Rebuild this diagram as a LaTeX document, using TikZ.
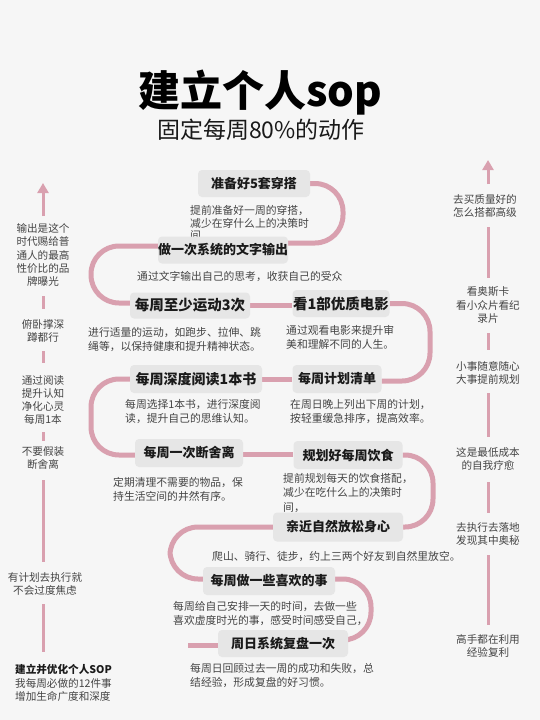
\documentclass[tikz,border=0pt]{standalone}
\usepackage{fontspec}
\setmainfont{Noto Sans CJK SC}
\usetikzlibrary{arrows.meta}
\definecolor{bgc}{HTML}{F6F6F6}
\definecolor{boxg}{HTML}{E6E6E6}
\definecolor{pinkc}{HTML}{D9A0AF}
\definecolor{txt}{HTML}{1A1A1A}
\definecolor{desc}{HTML}{444444}
\pgfdeclarelayer{bgl}
\pgfsetlayers{bgl,main}
\begin{document}
\begin{tikzpicture}[x=1pt,y=-1pt,
 stepbox/.style={fill=boxg, rounded corners=4pt, inner sep=0pt, text=txt, font=\bfseries\fontsize{13}{15}\selectfont},
 desctext/.style={anchor=north west, align=left, inner sep=0pt, text=desc, font=\fontsize{10.8}{14.5}\selectfont},
 sidetext/.style={align=center, inner sep=0pt, text=desc, font=\fontsize{10.6}{13.2}\selectfont},
 pinkpath/.style={draw=pinkc, line width=5pt, rounded corners=28pt},
 sideline/.style={draw=pinkc, line width=3pt},
 sidearrow/.style={draw=pinkc, line width=3pt, -{Triangle[width=11pt,length=10pt]}},
]
\useasboundingbox (0,0) rectangle (540,720);
% title
\node[inner sep=0pt, text=black, font=\bfseries\fontsize{42}{46}\selectfont] (title) at (260,93) {建立个人sop};
\node[inner sep=0pt, text=txt, font=\fontsize{23}{26}\selectfont] (subtitle) at (261,130) {固定每周80\%的动作};

% descriptions
\node[desctext, font=\fontsize{10.8}{12.5}\selectfont] (d1) at (190,205.5) {提前准备好一周的穿搭，\\减少在穿什么上的决策时\\间};
\node[stepbox, minimum width=112pt, minimum height=27pt] (b1) at (254,183.5) {准备好5套穿搭};
\node[stepbox, minimum width=130pt, minimum height=27pt] (b2) at (223,250) {做一次系统的文字输出};
\node[desctext] (d2) at (137,271) {通过文字输出自己的思考，收获自己的受众};
\node[stepbox, minimum width=120pt, minimum height=26pt, font=\bfseries\fontsize{14.5}{16}\selectfont] (b3) at (190,305.5) {每周至少运动3次};
\node[stepbox, minimum width=97pt, minimum height=27pt, font=\bfseries\fontsize{14.5}{16}\selectfont] (b4) at (341,303.5) {看1部优质电影};
\node[desctext] (d3) at (88,327) {进行适量的运动，如跑步、拉伸、跳\\绳等，以保持健康和提升精神状态。};
\node[desctext] (d4) at (286,325) {通过观看电影来提升审\\美和理解不同的人生。};
\node[stepbox, minimum width=132pt, minimum height=28pt, font=\bfseries\fontsize{14}{16}\selectfont] (b5) at (196,379) {每周深度阅读1本书};
\node[stepbox, minimum width=89pt, minimum height=28pt] (b6) at (337,379) {每周计划清单};
\node[desctext] (d5) at (125,399) {每周选择1本书，进行深度阅\\读，提升自己的思维认知。};
\node[desctext] (d6) at (290,399) {在周日晚上列出下周的计划，\\按轻重缓急排序，提高效率。};
\node[stepbox, minimum width=108pt, minimum height=28pt] (b7) at (189,453) {每周一次断舍离};
\node[stepbox, minimum width=109pt, minimum height=28pt] (b8) at (348,455) {规划好每周饮食};
\node[desctext] (d7) at (113,477) {定期清理不需要的物品，保\\持生活空间的井然有序。};
\node[desctext] (d8) at (283,473) {提前规划每天的饮食搭配，\\减少在吃什么上的决策时\\间，};
\node[stepbox, minimum width=130pt, minimum height=29pt] (b9) at (338,527) {亲近自然放松身心};
\node[desctext] (d9) at (212,551) {爬山、骑行、徒步，约上三两个好友到自然里放空。};
\node[stepbox, minimum width=132pt, minimum height=28pt] (b10) at (269,581) {每周做一些喜欢的事};
\node[desctext] (d10) at (173,601) {每周给自己安排一天的时间，去做一些\\喜欢虚度时光的事，感受时间感受自己，};
\node[stepbox, minimum width=130pt, minimum height=27pt] (b11) at (283,643.5) {周日系统复盘一次};
\node[desctext] (d11) at (190,663) {每周日回顾过去一周的成功和失败，总\\结经验，形成复盘的好习惯。};

% left column
\node[sidetext] (l1) at (43,255) {输出是这个\\时代赐给普\\通人的最高\\性价比的品\\牌曝光};
\node[sidetext] (l2) at (43,331) {俯卧撑深\\蹲都行};
\node[sidetext] (l3) at (43,400) {通过阅读\\提升认知\\净化心灵\\每周1本};
\node[sidetext] (l4) at (43,458) {不要假装\\断舍离};
\node[sidetext] (l5) at (45,584) {有计划去执行就\\不会过度焦虑};
\node[sidetext, align=left, anchor=west] (l6) at (15,683) {\textcolor{txt}{\bfseries 建立并优化个人SOP}\\我每周必做的12件事\\增加生命广度和深度};
% right column
\node[sidetext] (r1) at (485,206) {去买质量好的\\怎么搭都高级};
\node[sidetext] (r2) at (488,305) {看奥斯卡\\看小众片看纪\\录片};
\node[sidetext] (r3) at (488,373) {小事随意随心\\大事提前规划};
\node[sidetext] (r4) at (488,459) {这是最低成本\\的自我疗愈};
\node[sidetext] (r5) at (488,534) {去执行去落地\\发现其中奥秘};
\node[sidetext] (r6) at (488,646) {高手都在利用\\经验复利};

\coordinate (la0) at (43,216); \coordinate (la1) at (43,183);
\coordinate (ls1a) at (43,296); \coordinate (ls1b) at (43,309);
\coordinate (ls2a) at (43,351); \coordinate (ls2b) at (43,363);
\coordinate (ls3a) at (43,432); \coordinate (ls3b) at (43,441);
\coordinate (ls4a) at (43,480); \coordinate (ls4b) at (43,562);
\coordinate (ls5a) at (43,604); \coordinate (ls5b) at (43,652);
\coordinate (ra0) at (488,184); \coordinate (ra1) at (488,160);
\coordinate (rs1a) at (488,227); \coordinate (rs1b) at (488,278);
\coordinate (rs2a) at (488,333); \coordinate (rs2b) at (488,350);
\coordinate (rs3a) at (488,393); \coordinate (rs3b) at (488,437);
\coordinate (rs4a) at (488,482); \coordinate (rs4b) at (488,513);
\coordinate (rs5a) at (488,555); \coordinate (rs5b) at (488,625);
\coordinate (k0) at (188,645);

\begin{pgfonlayer}{bgl}
\fill[bgc] (0,0) rectangle (540,720);
\draw[pinkpath] (b1.east) -- (343,183.5) -- (343,243) -- ([yshift=7pt]b2.east);
\draw[pinkpath] ([yshift=4pt]b2.west) -- (91,246) -- (91,303) -- ([yshift=2.5pt]b3.west);
\draw[pinkpath] (b3.east) -- (b3.east -| b4.west);
\draw[pinkpath] (b4.east) -- (430,303.5) -- (430,381) -- ([yshift=-2pt]b6.east);
\draw[pinkpath] (b5.east) -- (b6.west);
\draw[pinkpath] (b5.west) -- (91,379) -- (91,455) -- ([yshift=-2pt]b7.west);
\draw[pinkpath] ([yshift=-1pt]b7.east) -- ([yshift=1pt]b8.west);
\draw[pinkpath] (b8.east) -- (433,455) -- (433,527) -- (b9.east);
\draw[pinkpath] (b9.west) -- (170,527) -- (170,579) -- ([yshift=2pt]b10.west);
\draw[pinkpath] ([yshift=2pt]b10.east) -- (371,579) -- (371,640) -- ([yshift=3.5pt]b11.east);
\draw[pinkpath] (k0) -- (k0 -| b11.west);
\draw[sidearrow] (la0) -- (la1);
\draw[sideline] (ls1a) -- (ls1b);
\draw[sideline] (ls2a) -- (ls2b);
\draw[sideline] (ls3a) -- (ls3b);
\draw[sideline] (ls4a) -- (ls4b);
\draw[sideline] (ls5a) -- (ls5b);
\draw[sidearrow] (ra0) -- (ra1);
\draw[sideline] (rs1a) -- (rs1b);
\draw[sideline] (rs2a) -- (rs2b);
\draw[sideline] (rs3a) -- (rs3b);
\draw[sideline] (rs4a) -- (rs4b);
\draw[sideline] (rs5a) -- (rs5b);
\end{pgfonlayer}
\end{tikzpicture}
\end{document}
